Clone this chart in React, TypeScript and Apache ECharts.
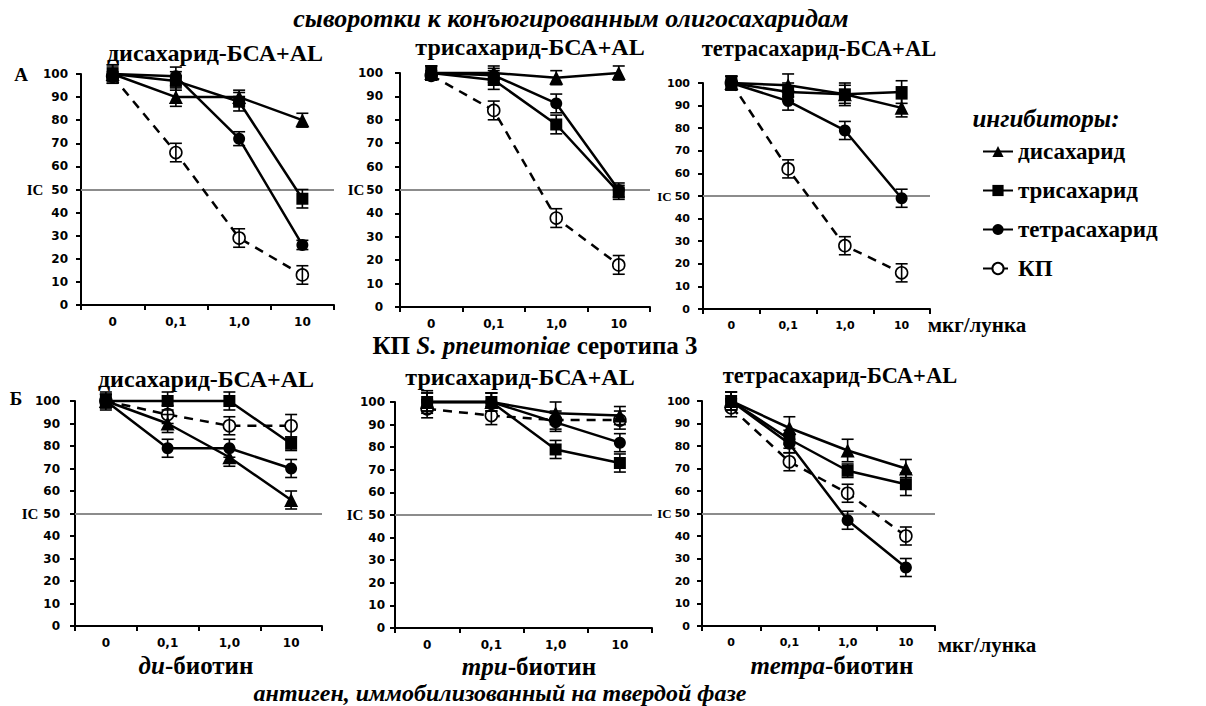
import React, { useEffect, useRef } from 'react';
import * as echarts from 'echarts';

// ---------- data ----------
const categories = ['0', '0,1', '1,0', '10'];
const inhibitors = ['дисахарид', 'трисахарид', 'тетрасахарид', 'КП'];
const icLevel = 50;

const panelTitles = [
  'дисахарид-БСА+AL',
  'трисахарид-БСА+AL',
  'тетрасахарид-БСА+AL',
  'дисахарид-БСА+AL',
  'трисахарид-БСА+AL',
  'тетрасахарид-БСА+AL',
];

// rows: дисахарид, трисахарид, тетрасахарид, КП
const valuesA1 = [
  [100, 90, 90, 80],
  [100, 97, 88, 46],
  [100, 99, 72, 26],
  [99, 66, 29, 13],
];
const errorsA1 = [
  [3, 4, 3, 3],
  [4, 4, 4, 4],
  [4, 4, 3, 2],
  [2, 4, 4, 4],
];
const valuesA2 = [
  [100, 100, 98, 100],
  [100, 97, 78, 49],
  [100, 99, 87, 50],
  [99, 84, 38, 18],
];
const errorsA2 = [
  [3, 3, 3, 3],
  [3, 4, 4, 3],
  [3, 3, 4, 3],
  [2, 4, 4, 4],
];
const valuesA3 = [
  [100, 99, 95, 89],
  [100, 96, 95, 96],
  [100, 92, 79, 49],
  [100, 62, 28, 16],
];
const errorsA3 = [
  [3, 5, 4, 4],
  [3, 4, 5, 5],
  [3, 4, 4, 4],
  [3, 4, 4, 4],
];
const valuesB1 = [
  [100, 90, 75, 56],
  [100, 100, 100, 81],
  [100, 79, 79, 70],
  [100, 94, 89, 89],
];
const errorsB1 = [
  [3, 4, 4, 4],
  [4, 4, 4, 3],
  [3, 4, 4, 4],
  [3, 4, 4, 5],
];
const valuesB2 = [
  [100, 100, 95, 94],
  [100, 100, 79, 73],
  [100, 100, 91, 82],
  [97, 94, 92, 92],
];
const errorsB2 = [
  [4, 4, 5, 4],
  [5, 4, 4, 4],
  [4, 4, 4, 4],
  [4, 4, 4, 4],
];
const valuesB3 = [
  [100, 88, 78, 70],
  [100, 83, 69, 63],
  [100, 81, 47, 26],
  [97, 73, 59, 40],
];
const errorsB3 = [
  [4, 5, 5, 4],
  [4, 4, 3, 5],
  [4, 4, 4, 4],
  [4, 4, 4, 4],
];

const panelValues = [valuesA1, valuesA2, valuesA3, valuesB1, valuesB2, valuesB3];
const panelErrors = [errorsA1, errorsA2, errorsA3, errorsB1, errorsB2, errorsB3];

// ---------- layout / style ----------
const layouts = [
  { left: 81, top: 74, width: 253, height: 231, fs: 12, ym: 13, icGap: 8, icFs: 15, tx: 215, ty: 53, tfs: 24 },
  { left: 400, top: 73, width: 250, height: 234, fs: 12, ym: 17, icGap: 2, icFs: 15, tx: 530, ty: 47, tfs: 24 },
  { left: 703, top: 83, width: 227, height: 226, fs: 11, ym: 13, icGap: 3, icFs: 13, tx: 819, ty: 48, tfs: 22.5 },
  { left: 75, top: 401, width: 247, height: 225, fs: 12, ym: 15, icGap: 5, icFs: 15, tx: 206, ty: 379, tfs: 24 },
  { left: 395, top: 402, width: 257, height: 226, fs: 12, ym: 10, icGap: 5, icFs: 15, tx: 520, ty: 377, tfs: 24 },
  { left: 702, top: 401, width: 233, height: 225, fs: 11, ym: 12, icGap: 3, icFs: 13, tx: 840, ty: 375, tfs: 22.5 },
];

const markerStyles = [
  { symbol: 'triangle', size: 14, fill: '#000', dashed: false, z: 4 },
  { symbol: 'rect', size: 12, fill: '#000', dashed: false, z: 4 },
  { symbol: 'circle', size: 12, fill: '#000', dashed: false, z: 4 },
  { symbol: 'circle', size: 12, fill: '#fff', dashed: true, z: 3 },
];

const SERIF = 'Liberation Serif';
const SANS = 'DejaVu Sans';

function errorRenderItem(params: any, api: any) {
  const x = api.value(0);
  const lo = api.coord([x, api.value(1)]);
  const hi = api.coord([x, api.value(2)]);
  const w = 6;
  const style = { stroke: '#000', lineWidth: 1.6 };
  return {
    type: 'group',
    children: [
      { type: 'line', shape: { x1: lo[0], y1: lo[1], x2: hi[0], y2: hi[1] }, style },
      { type: 'line', shape: { x1: lo[0] - w, y1: lo[1], x2: lo[0] + w, y2: lo[1] }, style },
      { type: 'line', shape: { x1: hi[0] - w, y1: hi[1], x2: hi[0] + w, y2: hi[1] }, style },
    ],
  };
}

function buildOption() {
  const grid: any[] = [];
  const xAxis: any[] = [];
  const yAxis: any[] = [];
  const series: any[] = [];
  const graphic: any[] = [];

  layouts.forEach((L, p) => {
    grid.push({ left: L.left, top: L.top, width: L.width, height: L.height, containLabel: false });
    xAxis.push({
      type: 'category',
      gridIndex: p,
      data: categories,
      boundaryGap: true,
      axisLine: { show: true, lineStyle: { color: '#000', width: 2 } },
      axisTick: { show: true, interval: 0, length: 5, lineStyle: { color: '#000', width: 2 } },
      axisLabel: {
        interval: 0,
        color: '#000',
        fontFamily: SANS,
        fontWeight: 'bold',
        fontSize: L.fs,
        margin: 11,
      },
      splitLine: { show: false },
    });
    yAxis.push({
      type: 'value',
      gridIndex: p,
      min: 0,
      max: 100,
      interval: 10,
      axisLine: { show: true, lineStyle: { color: '#000', width: 2 } },
      axisTick: { show: true, length: 5, lineStyle: { color: '#000', width: 2 } },
      splitLine: { show: false },
      axisLabel: {
        color: '#000',
        fontFamily: SANS,
        fontWeight: 'bold',
        fontSize: L.fs,
        margin: L.ym,
        formatter: (v: number) => (v === icLevel ? '{ic|IC}' + v : String(v)),
        rich: {
          ic: {
            fontFamily: SERIF,
            fontWeight: 'bold',
            fontSize: L.icFs,
            color: '#000',
            padding: [0, L.icGap, 0, 0],
          },
        },
      },
    });

    const vals = panelValues[p];
    const errs = panelErrors[p];
    [3, 0, 1, 2].forEach((s) => {
      const m = markerStyles[s];
      const line: any = {
        type: 'line',
        name: inhibitors[s],
        xAxisIndex: p,
        yAxisIndex: p,
        data: vals[s],
        symbol: m.symbol,
        symbolSize: m.size,
        showSymbol: true,
        clip: false,
        silent: true,
        z: m.z,
        itemStyle: { color: m.fill, borderColor: '#000', borderWidth: m.fill === '#fff' ? 1.6 : 0 },
        lineStyle: { color: '#000', width: 2.5, type: m.dashed ? [9, 7] : 'solid' },
        emphasis: { disabled: true },
      };
      if (s === 3) {
        line.markLine = {
          silent: true,
          symbol: ['none', 'none'],
          label: { show: false },
          lineStyle: { color: '#8c8c8c', width: 2, type: 'solid' },
          data: [{ yAxis: icLevel }],
          z: 1,
        };
      }
      series.push(line);
      series.push({
        type: 'custom',
        name: 'err',
        xAxisIndex: p,
        yAxisIndex: p,
        silent: true,
        z: 5,
        renderItem: errorRenderItem,
        encode: { x: 0, y: [1, 2] },
        data: vals[s].map((v, i) => [i, v - errs[s][i], v + errs[s][i]]),
      });
    });

    graphic.push({
      type: 'text',
      x: L.tx,
      y: L.ty,
      style: {
        text: panelTitles[p],
        fontFamily: SERIF,
        fontWeight: 'bold',
        fontSize: L.tfs,
        fill: '#000',
        align: 'center',
        verticalAlign: 'middle',
      },
    });
  });

  const textItem = (x: number, y: number, text: string, extra: any = {}) => ({
    type: 'text',
    x,
    y,
    style: {
      text,
      fontFamily: SERIF,
      fontWeight: 'bold',
      fontSize: 22,
      fill: '#000',
      align: 'center',
      verticalAlign: 'middle',
      ...extra,
    },
  });

  const biotinRich = {
    n: { fontFamily: SERIF, fontWeight: 'bold', fontSize: 25, fill: '#000' },
    i: { fontFamily: SERIF, fontWeight: 'bold', fontStyle: 'italic', fontSize: 25, fill: '#000' },
  };

  graphic.push(
    textItem(571, 18, 'сыворотки к конъюгированным олигосахаридам', {
      fontStyle: 'italic',
      fontSize: 26,
    }),
    textItem(21, 74, 'А', { fontSize: 19 }),
    textItem(16, 398, 'Б', { fontSize: 19 }),
    textItem(535, 345, '{n|КП }{i|S. pneumoniae}{n| серотипа 3}', {
      fontSize: 25,
      rich: {
        n: { fontFamily: SERIF, fontWeight: 'bold', fontSize: 25, fill: '#000' },
        i: { fontFamily: SERIF, fontWeight: 'bold', fontStyle: 'italic', fontSize: 25, fill: '#000' },
      },
    }),
    textItem(500, 693, 'антиген, иммобилизованный на твердой фазе', {
      fontStyle: 'italic',
      fontSize: 24,
    }),
    textItem(1046, 118, 'ингибиторы:', { fontStyle: 'italic', fontSize: 25 }),
    textItem(977, 325, 'мкг/лунка', { fontSize: 21 }),
    textItem(987, 645, 'мкг/лунка', { fontSize: 21 }),
    textItem(196, 665, '{i|ди}{n|-биотин}', { fontSize: 25, rich: biotinRich }),
    textItem(529, 666, '{i|три}{n|-биотин}', { fontSize: 25, rich: biotinRich }),
    textItem(832, 665, '{i|тетра}{n|-биотин}', { fontSize: 25, rich: biotinRich })
  );

  return {
    animation: false,
    backgroundColor: '#fff',
    grid,
    xAxis,
    yAxis,
    series,
    graphic,
    legend: {
      data: inhibitors,
      orient: 'vertical',
      left: 977,
      top: 135,
      itemWidth: 30,
      itemHeight: 14,
      itemGap: 16,
      selectedMode: false,
      textStyle: {
        fontFamily: SERIF,
        fontWeight: 'bold',
        fontSize: 23,
        lineHeight: 23,
        color: '#000',
      },
    },
  };
}

export default function App() {
  const ref = useRef<HTMLDivElement>(null);
  useEffect(() => {
    if (!ref.current) return;
    const chart = echarts.init(ref.current, undefined, { renderer: 'svg' });
    chart.setOption(buildOption() as any);
    return () => chart.dispose();
  }, []);
  return (
    <div
      ref={ref}
      style={{ position: 'absolute', left: 0, top: 0, width: 1206, height: 706, background: '#fff' }}
    />
  );
}
